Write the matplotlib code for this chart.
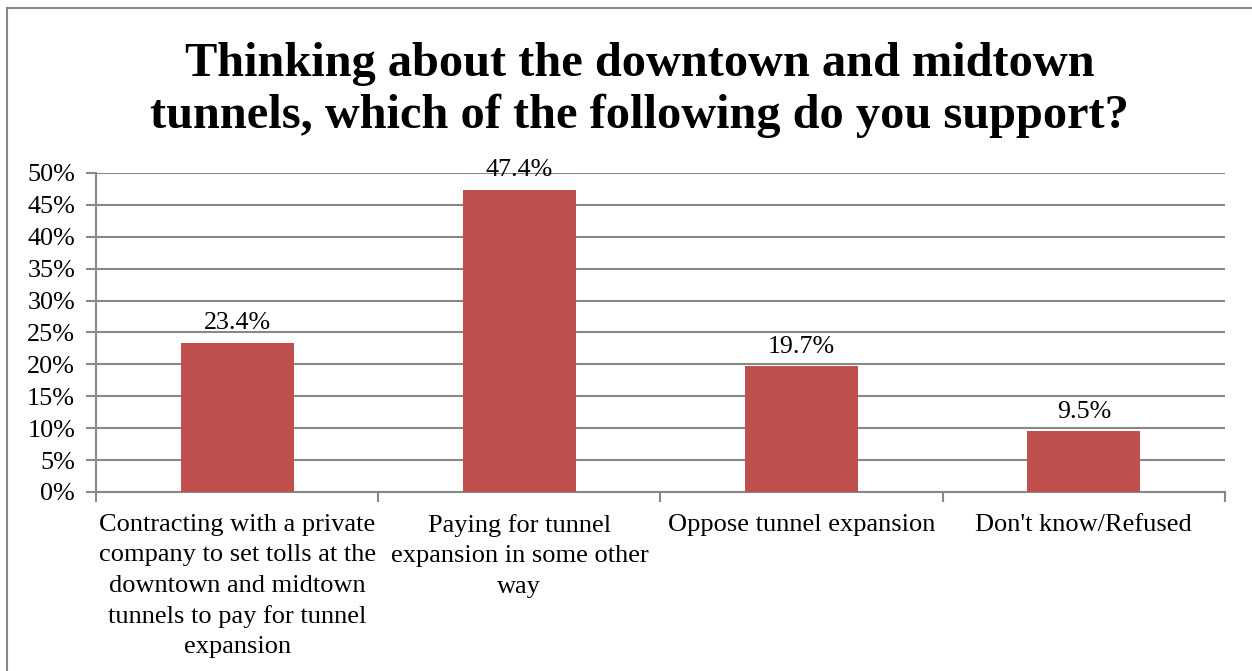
import matplotlib.pyplot as plt
from matplotlib.patches import Rectangle
from matplotlib.ticker import MultipleLocator, FuncFormatter

# Survey results
categories = [
    "Contracting with a private\ncompany to set tolls at the\ndowntown and midtown\ntunnels to pay for tunnel\nexpansion",
    "Paying for tunnel\nexpansion in some other\nway",
    "Oppose tunnel expansion",
    "Don't know/Refused",
]
values = [23.4, 47.4, 19.7, 9.5]
value_labels = ["23.4%", "47.4%", "19.7%", "9.5%"]

title = "Thinking about the downtown and midtown\ntunnels, which of the following do you support?"

plt.rcParams['font.family'] = ['Liberation Serif', 'DejaVu Serif']

fig = plt.figure(figsize=(12.52, 6.71), dpi=100)
ax = fig.add_axes([0.0767, 0.2668, 0.9017, 0.4754])

# outer chart border (runs off the right and bottom edges)
fig.patches.append(Rectangle((7 / 1252, -0.1), 1.2, 1 - 8 / 671 + 0.1,
                             transform=fig.transFigure, fill=False,
                             edgecolor='#888888', linewidth=1.5))

x = range(len(categories))
ax.bar(x, values, width=0.4, color='#C0504D', zorder=3)

for xi, v, lab in zip(x, values, value_labels):
    ax.annotate(lab, (xi, v), xytext=(0, 6), textcoords='offset points',
                ha='center', va='bottom', fontsize=18.7)

ax.set_xlim(-0.5, len(categories) - 0.5)
ax.set_ylim(0, 50)
ax.yaxis.set_major_locator(MultipleLocator(5))
ax.yaxis.set_major_formatter(FuncFormatter(lambda v, p: f"{v:.0f}%"))
ax.yaxis.grid(True, color='#888888', linewidth=1.5, zorder=0)
ax.set_axisbelow(True)

ax.set_xticks(x)
ax.set_xticklabels(categories, fontsize=19, linespacing=1.48)
ax.tick_params(axis='x', length=0, pad=16)
ax.set_xticks([i + 0.5 for i in range(-1, len(categories))], minor=True)
ax.tick_params(axis='x', which='minor', length=7, width=1.5, color='#888888')
ax.tick_params(axis='y', labelsize=18.8, length=7, width=1.5, color='#888888', pad=8)

for side in ['top', 'right']:
    ax.spines[side].set_visible(False)
for side in ['left', 'bottom']:
    ax.spines[side].set_color('#888888')
    ax.spines[side].set_linewidth(1.5)

fig.text(0.511, 0.866, title, ha='center', va='center', fontsize=34.8,
         fontweight='bold', linespacing=1.2)

fig.savefig('out.png', dpi=100)
